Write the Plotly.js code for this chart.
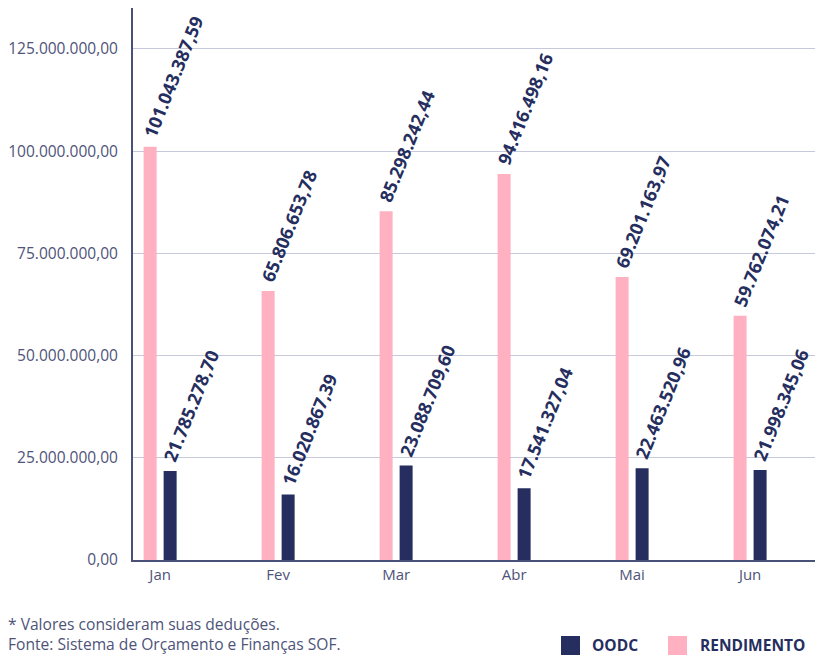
<!DOCTYPE html>
<html>
<head>
<meta charset="utf-8">
<script src="https://cdn.plot.ly/plotly-3.0.1.min.js"></script>
<style>html,body{margin:0;padding:0;background:#fff;}#chart{width:815px;height:655px;}</style>
</head>
<body>
<div id="chart"></div>
<script>
const months = ["Jan", "Fev", "Mar", "Abr", "Mai", "Jun"];
const rendimento = [101043387.59, 65806653.78, 85298242.44, 94416498.16, 69201163.97, 59762074.21];
const oodc = [21785278.70, 16020867.39, 23088709.60, 17541327.04, 22463520.96, 21998345.06];
const seriesNames = ["OODC", "RENDIMENTO"];
const yTicks = [0, 25000000, 50000000, 75000000, 100000000, 125000000];
const footnotes = ["* Valores consideram suas deduções.", "Fonte: Sistema de Orçamento e Finanças SOF."];

const NAVY = "#252e5e", PINK = "#ffb1c1", SLATE = "#4e5379";
const L = 133, R = 815, T = 8, B = 560;
const px = x => (x - L) / (R - L);
const py = y => (B - y) / (B - T);

function fmtBR(v) {
  const parts = v.toFixed(2).split(".");
  return parts[0].replace(/\B(?=(\d{3})+(?!\d))/g, ".") + "," + parts[1];
}

const traces = [
  {type: "bar", name: seriesNames[1], x: months, y: rendimento, marker: {color: PINK}, hoverinfo: "none"},
  {type: "bar", name: seriesNames[0], x: months, y: oodc, marker: {color: NAVY}, hoverinfo: "none"}
];

const annotations = [];
months.forEach((m, i) => {
  [[rendimento[i], -25], [oodc[i], -5]].forEach(([v, sh]) => {
    annotations.push({
      x: m, y: v, xref: "x", yref: "y", text: fmtBR(v), showarrow: false,
      textangle: -68, xanchor: "left", yanchor: "bottom", xshift: sh, yshift: 3,
      font: {family: "Open Sans", size: 18, color: NAVY, weight: 700}
    });
  });
});
annotations.push({
  x: px(7), y: py(634), xref: "paper", yref: "paper", text: footnotes.join("<br>"), showarrow: false, borderpad: 0,
  xanchor: "left", yanchor: "middle", align: "left", font: {family: "Open Sans", size: 15.6, color: SLATE}
});
const legendItems = [[seriesNames[0], NAVY, 561, 591], [seriesNames[1], PINK, 668, 699]];
const shapes = [];
legendItems.forEach(([name, col, sx, tx]) => {
  shapes.push({type: "rect", xref: "paper", yref: "paper", x0: px(sx), x1: px(sx + 19), y0: py(655), y1: py(636), fillcolor: col, line: {width: 0}});
  annotations.push({x: px(tx), y: py(645), xref: "paper", yref: "paper", text: name, showarrow: false, borderpad: 0,
    xanchor: "left", yanchor: "middle", font: {family: "Open Sans", size: 15.5, color: NAVY, weight: 700}});
});

const layout = {
  width: 815, height: 655,
  margin: {l: L, r: 815 - R, t: T, b: 655 - B, pad: 0},
  paper_bgcolor: "#fff", plot_bgcolor: "#fff",
  showlegend: false,
  barmode: "group", bargap: 0.661, bargroupgap: 0.35,
  font: {family: "Open Sans", color: SLATE},
  xaxis: {
    range: [-0.23, 5.55], showgrid: false, showline: true, linecolor: "#4a5178", linewidth: 2,
    ticks: "", tickfont: {size: 15, color: SLATE}, fixedrange: true
  },
  yaxis: {
    range: [0, 135000000], tickvals: yTicks, ticktext: yTicks.map(fmtBR),
    showgrid: true, gridcolor: "#c6c9db", gridwidth: 1, zeroline: false,
    showline: true, linecolor: "#4a5178", linewidth: 2, ticks: "", ticklabelstandoff: 10,
    tickfont: {size: 15.5, color: SLATE}, fixedrange: true
  },
  annotations: annotations,
  shapes: shapes
};
Plotly.newPlot("chart", traces, layout, {staticPlot: true, displayModeBar: false});
</script>
</body>
</html>
